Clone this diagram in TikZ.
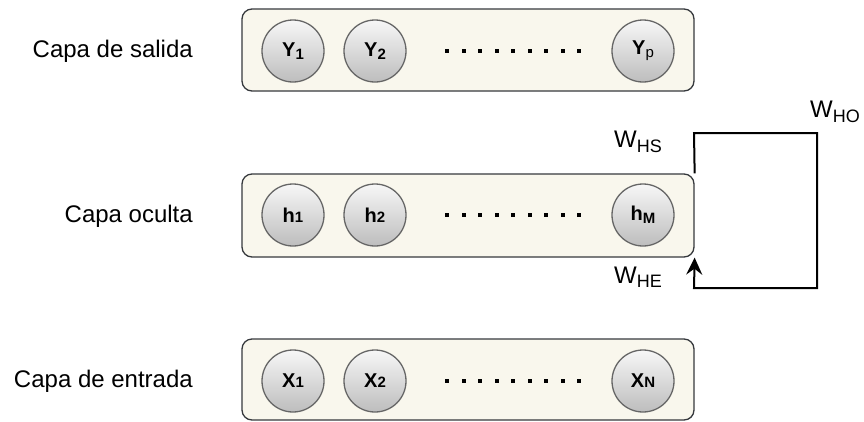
\documentclass[tikz,border=0pt]{standalone}
\usepackage{fontspec}
\setmainfont{Liberation Sans}
\usetikzlibrary{arrows.meta}
\definecolor{boxfill}{HTML}{F9F7ED}
\definecolor{boxline}{HTML}{36393D}
\definecolor{nline}{HTML}{666666}
\definecolor{ntop}{HTML}{F7F7F7}
\definecolor{nbot}{HTML}{BDBDBD}
\tikzset{
  layer/.style={draw=boxline, fill=boxfill, line width=1.3pt, rounded corners=10pt,
    minimum width=452pt, inner sep=0pt},
  neuron/.style={circle, draw=nline, line width=1.3pt, top color=ntop, bottom color=nbot,
    minimum size=62pt, inner sep=0pt, font=\fontsize{20}{22}\selectfont\bfseries},
  lbl/.style={font=\fontsize{24}{28}\selectfont, inner sep=0pt},
  wlbl/.style={font=\fontsize{24}{28}\selectfont, inner sep=0pt},
  conn/.style={line width=2pt, draw=black},
}
\newcommand{\sbs}[1]{\raisebox{-0.3ex}{\fontsize{15}{15}\selectfont #1}}
\newcommand{\sml}[1]{{\fontsize{15}{15}\selectfont #1}}
\newcommand{\wsub}[1]{\raisebox{-0.35ex}{\fontsize{18}{18}\selectfont #1}}
\begin{document}
\begin{tikzpicture}[x=1pt, y=-1pt]
\useasboundingbox (0,0) rectangle (864,421);

% layer boxes
\node[layer, minimum height=82pt] (out) at (468,50) {};
\node[layer, minimum height=83pt] (hid) at (468,215.5) {};
\node[layer, minimum height=81pt] (inp) at (468,379.5) {};

% layer labels
\node[lbl, anchor=east] (lout) at (193,51) {Capa de salida};
\node[lbl, anchor=east] (lhid) at (193,216) {Capa oculta};
\node[lbl, anchor=east] (linp) at (193,381.5) {Capa de entrada};

% output neurons
\node[neuron] (y1) at (293,51) {Y\sbs{1}};
\node[neuron] (y2) at (375,51) {Y\sbs{2}};
\node[neuron] (yp) at (643,51) {Y\sbs{\mdseries p}};

% hidden neurons
\node[neuron] (h1) at (293,215) {h\sml{1}};
\node[neuron] (h2) at (375,215) {h\sml{2}};
\node[neuron] (hm) at (643,215) {h\sbs{M}};

% input neurons
\node[neuron] (x1) at (293,381) {X\sml{1}};
\node[neuron] (x2) at (375,381) {X\sml{2}};
\node[neuron] (xn) at (643,381) {X\sml{N}};

% dots
\foreach \yy in {51,215,381} {
  \foreach \i in {0,...,8} {
    \fill (447+16.5*\i-2, \yy-2) rectangle ++(4,4);
  }
}

% recurrent connection
\coordinate (c1) at (694,133);
\coordinate (c2) at (817,133);
\coordinate (c3) at (817,288);
\coordinate (c4) at (694,288);
\draw[conn, -{Stealth[length=17pt, width=16pt, inset=6pt]}]
  (hid.north east) -- (c1) -- (c2) -- (c3) -- (c4) -- (hid.south east);

% weight labels
\node[wlbl, anchor=west] (who) at (810,112) {W\wsub{HO}};
\node[wlbl, anchor=west] (whs) at (614,142) {W\wsub{HS}};
\node[wlbl, anchor=west] (whe) at (614,277) {W\wsub{HE}};
\end{tikzpicture}
\end{document}
